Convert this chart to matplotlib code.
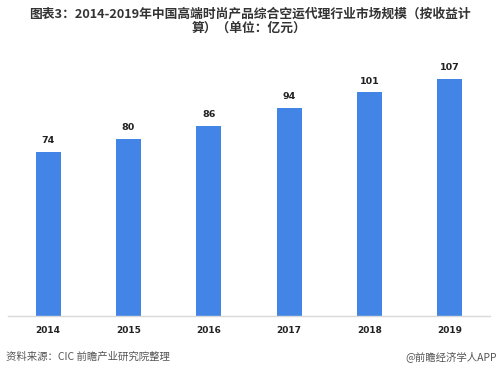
import matplotlib
matplotlib.use('Agg')
import matplotlib.pyplot as plt

plt.rcParams['font.family'] = ['Noto Sans CJK SC', 'DejaVu Sans']

years = ['2014', '2015', '2016', '2017', '2018', '2019']
values = [74, 80, 86, 94, 101, 107]

title = '图表3：2014-2019年中国高端时尚产品综合空运代理行业市场规模（按收益计\n算）（单位：亿元）'
source = '资料来源：CIC 前瞻产业研究院整理'
brand = '@前瞻经济学人APP'

fig = plt.figure(figsize=(4.99, 3.73), dpi=100)
ax = fig.add_axes([8 / 499, 57 / 373, 482 / 499, 265.8 / 373])

x = range(len(years))
bars = ax.bar(x, values, width=0.31, color='#4285E6')
for xi, v in zip(x, values):
    ax.text(xi, v + 3, str(v), ha='center', va='bottom', fontsize=6.8,
            fontweight='bold', color='#222222', family='DejaVu Sans')

ax.set_xlim(-0.5, len(years) - 0.5)
ax.set_ylim(0, 120)
ax.set_xticks(list(x))
ax.set_xticklabels(years, fontsize=6.5, fontweight='bold', color='#222222',
                   family='DejaVu Sans')
ax.tick_params(axis='x', length=0, pad=7)
ax.set_yticks([])
for s in ['top', 'right', 'left']:
    ax.spines[s].set_visible(False)
ax.spines['bottom'].set_color('#d9d9d9')
ax.spines['bottom'].set_linewidth(1)

fig.text(0.5, 1 - 8 / 373, title, ha='center', va='top', fontsize=9.2,
         fontweight='bold', color='#333333', linespacing=1.05)
fig.text(6 / 499, 1 - 357 / 373, source, ha='left', va='center',
         fontsize=7.5, color='#555555')
fig.text(497 / 499, 1 - 357 / 373, brand, ha='right', va='center',
         fontsize=7.5, color='#555555')

fig.savefig('out.png', dpi=100)
